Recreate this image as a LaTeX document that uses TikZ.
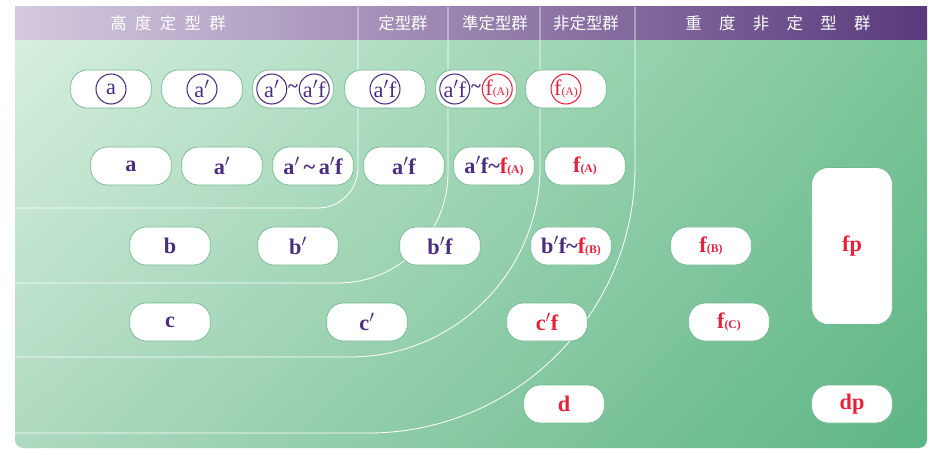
\documentclass[tikz,border=0pt]{standalone}
\usepackage{fontspec}
\setmainfont{Liberation Serif}
\newfontfamily\jpfont{Noto Sans CJK JP}
\usetikzlibrary{positioning,shadings}
\definecolor{ink}{HTML}{4A2D80}
\definecolor{redink}{HTML}{E3233C}
\definecolor{pillrim}{HTML}{74B891}
\definecolor{headleft}{HTML}{D4CADF}
\definecolor{headright}{HTML}{5A3A7D}
\definecolor{bodyul}{HTML}{D8EFE0}
\definecolor{bodyur}{HTML}{7CC69A}
\definecolor{bodyll}{HTML}{AEDABF}
\definecolor{bodylr}{HTML}{5DB585}
% f with a small bracketed index
\newcommand{\fidx}[1]{f{\fontsize{10}{10}\selectfont(#1)}}
\newcommand{\wave}{\textasciitilde}

\begin{document}
\begin{tikzpicture}[x=0.03cm, y=-0.03cm,
    pill/.style={draw=pillrim, fill=white, line width=0.6pt, rounded corners=0.5cm,
      minimum width=2.42cm, minimum height=1.14cm, inner sep=0pt, text=ink,
      font=\bfseries\fontsize{19}{19}\selectfont},
    ring/.style={circle, draw=#1, text=#1, line width=0.9pt, minimum size=0.9cm,
      inner sep=0pt, font=\fontsize{19}{19}\selectfont},
    ring/.default=ink,
    tilde/.style={inner sep=0.5pt, text=ink, font=\bfseries\fontsize{16}{16}\selectfont},
    divider/.style={draw=white, line width=0.7pt},
    headlabel/.style={text=white, font=\jpfont\fontsize{14}{14}\selectfont}]
  \useasboundingbox (0,0) rectangle (934,455);

  % background panels
  \shade[rounded corners=0.25cm, upper left=bodyul, upper right=bodyur,
    lower left=bodyll, lower right=bodylr] (15,20) rectangle (927,448);
  \shade[left color=headleft, right color=headright] (15,7) rectangle (927,40);

  % group boundaries
  \draw[divider, rounded corners=1.2cm] (358,7) |- (15,208);
  \draw[divider, rounded corners=3.3cm] (448,7) |- (15,283);
  \draw[divider, rounded corners=5.7cm] (540,7) |- (15,357);
  \draw[divider, rounded corners=8.0cm] (635,7) |- (15,433);

  % header
  \node[headlabel] (h1) at (168,23) {高\hspace{0.25cm}度\hspace{0.25cm}定\hspace{0.25cm}型\hspace{0.25cm}群};
  \node[headlabel] (h2) at (403,23) {定型群};
  \node[headlabel] (h3) at (495,23) {準定型群};
  \node[headlabel] (h4) at (586,23) {非定型群};
  \node[headlabel] (h5) at (778,23) {重\hspace{0.52cm}度\hspace{0.52cm}非\hspace{0.52cm}定\hspace{0.52cm}型\hspace{0.52cm}群};

  % row 1: circled marks
  \node[pill] (r1a) at (111,89) {};
  \node[ring] (r1a-m) at (r1a) {a};
  \node[pill] (r1b) at (202,89) {};
  \node[ring] (r1b-m) at (r1b) {a$'$};
  \node[pill] (r1c) at (293,89) {};
  \node[tilde] (r1c-t) at (r1c) {\wave};
  \node[ring, left=0pt of r1c-t] (r1c-l) {a$'$};
  \node[ring, right=0pt of r1c-t] (r1c-r) {a$'$f};
  \node[pill] (r1d) at (385,89) {};
  \node[ring] (r1d-m) at (r1d) {a$'$f};
  \node[pill] (r1e) at (476,89) {};
  \node[tilde] (r1e-t) at (r1e) {\wave};
  \node[ring, left=0pt of r1e-t] (r1e-l) {a$'$f};
  \node[ring=redink, right=0pt of r1e-t] (r1e-r) {\fidx{A}};
  \node[pill] (r1f) at (566,89) {};
  \node[ring=redink] (r1f-m) at (r1f) {\fidx{A}};

  % row 2
  \node[pill] (r2a) at (131,166) {a};
  \node[pill] (r2b) at (222,166) {a$'$};
  \node[pill] (r2c) at (313,166) {a$'$\,\wave\,a$'$f};
  \node[pill] (r2d) at (404,166) {a$'$f};
  \node[pill] (r2e) at (494,166) {a$'$f\wave\textcolor{redink}{\fidx{A}}};
  \node[pill, text=redink] (r2f) at (585,166) {\fidx{A}};

  % row 3
  \node[pill] (r3a) at (170,246) {b};
  \node[pill] (r3b) at (298,246) {b$'$};
  \node[pill] (r3c) at (440,246) {b$'$f};
  \node[pill] (r3d) at (571,246) {b$'$f\wave\textcolor{redink}{\fidx{B}}};
  \node[pill, text=redink] (r3e) at (711,246) {\fidx{B}};

  % row 4
  \node[pill] (r4a) at (170,322) {c};
  \node[pill] (r4b) at (367,322) {c$'$};
  \node[pill, text=redink] (r4c) at (547,322) {c$'$f};
  \node[pill, text=redink] (r4d) at (729,322) {\fidx{C}};

  % row 5 and the tall box
  \node[pill, text=redink] (r5a) at (564,404) {d};
  \node[pill, text=redink] (r5b) at (852,404) {dp};
  \node[pill, text=redink, minimum height=4.71cm] (fp) at (852,246) {fp};
\end{tikzpicture}
\end{document}
